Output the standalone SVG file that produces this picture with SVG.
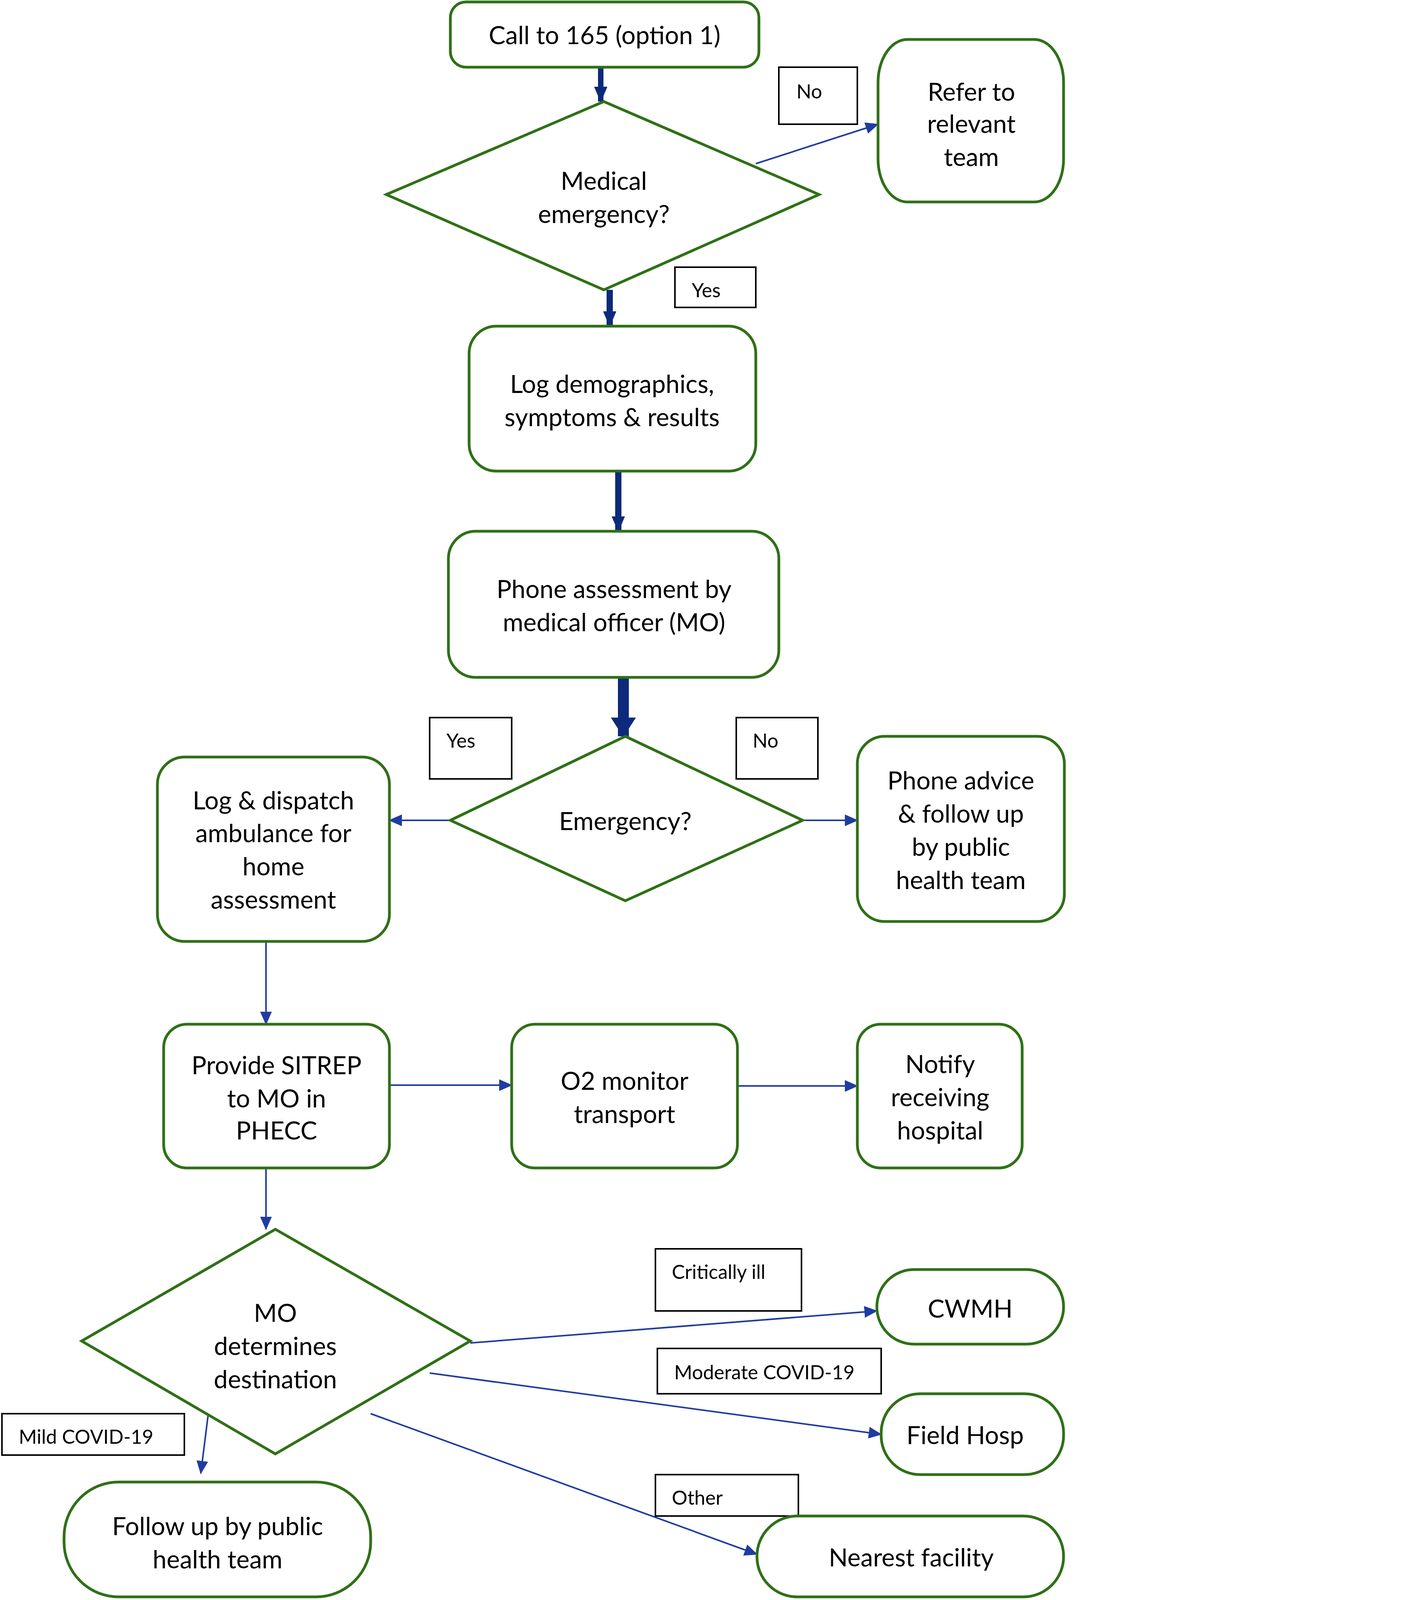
<svg xmlns="http://www.w3.org/2000/svg" width="3592" height="4160" viewBox="0 0 3592 4160">
<style>
.n{fill:#fff;stroke:#2e7016;stroke-width:7}
.t{font-family:Lato,"Open Sans",sans-serif;font-size:64px;fill:#000;text-anchor:middle;dominant-baseline:central}
.lb{fill:#fff;stroke:#000;stroke-width:4}
.l{font-family:Lato,"Open Sans",sans-serif;font-size:50px;fill:#000;dominant-baseline:central}
.a{stroke:#1f3ca0;stroke-width:4;fill:none;marker-end:url(#ah)}
.k{stroke:#0d2a7a;fill:none;marker-end:url(#kh)}
.foot{font-family:"Liberation Sans",Arial,sans-serif;font-size:50px;fill:#000;text-anchor:end}
</style>
<defs>
<marker id="ah" markerUnits="userSpaceOnUse" markerWidth="34" markerHeight="30" refX="32" refY="15" orient="auto"><path d="M0,0 L34,15 L0,30 Z" fill="#1f3ca0"/></marker>
<marker id="kh" markerUnits="userSpaceOnUse" markerWidth="40" markerHeight="34" refX="38" refY="17" orient="auto"><path d="M0,0 L40,17 L0,34 Z" fill="#0d2a7a"/></marker>
<marker id="kb" markerUnits="userSpaceOnUse" markerWidth="50" markerHeight="64" refX="48" refY="32" orient="auto"><path d="M0,0 L50,32 L0,64 Z" fill="#0d2a7a"/></marker>
</defs>
<rect width="3592" height="4160" fill="#fff"/>
<g id="connectors">
<line class="k" x1="1538" y1="172" x2="1538" y2="260" stroke-width="14"/>
<line class="k" x1="1561" y1="742" x2="1561" y2="835" stroke-width="16"/>
<line class="k" x1="1583" y1="1206" x2="1583" y2="1360" stroke-width="16"/>
<line x1="1596" y1="1734" x2="1596" y2="1885" stroke="#0d2a7a" stroke-width="28" marker-end="url(#kb)"/>
<line class="a" x1="1935" y1="419" x2="2248" y2="318"/>
<line class="a" x1="1153" y1="2100" x2="997" y2="2100"/>
<line class="a" x1="2055" y1="2100" x2="2195" y2="2100"/>
<line class="a" x1="681" y1="2410" x2="681" y2="2622"/>
<line class="a" x1="997" y1="2778" x2="1310" y2="2778"/>
<line class="a" x1="1888" y1="2780" x2="2195" y2="2780"/>
<line class="a" x1="681" y1="2990" x2="681" y2="3147"/>
<line class="a" x1="1204" y1="3438" x2="2245" y2="3356"/>
<line class="a" x1="1100" y1="3515" x2="2256" y2="3672"/>
<line class="a" x1="949" y1="3619" x2="1938" y2="3979"/>
<line class="a" x1="533" y1="3621" x2="514" y2="3772"/>
</g>
<g id="labels">
<rect class="lb" x="1994" y="172" width="201" height="146"/><text class="l" x="2039" y="233">No</text>
<rect class="lb" x="1728" y="684" width="207" height="103"/><text class="l" x="1771" y="742">Yes</text>
<rect class="lb" x="1100" y="1837" width="210" height="157"/><text class="l" x="1143" y="1895">Yes</text>
<rect class="lb" x="1885" y="1837" width="209" height="157"/><text class="l" x="1927" y="1895">No</text>
<rect class="lb" x="1678" y="3197" width="374" height="159"/><text class="l" x="1720" y="3255">Critically ill</text>
<rect class="lb" x="1683" y="3452" width="573" height="116"/><text class="l" x="1726" y="3512">Moderate COVID-19</text>
<rect class="lb" x="1678" y="3775" width="366" height="106"/><text class="l" x="1720" y="3833">Other</text>
<rect class="lb" x="5" y="3619" width="467" height="106"/><text class="l" x="48" y="3677">Mild COVID-19</text>
</g>
<g id="call"><rect class="n" x="1153" y="5" width="790" height="167" rx="40"/><text class="t" x="1548" y="88">Call to 165 (option 1)</text></g>
<g id="medical"><polygon class="n" points="989,498 1546,260 2097,498 1546,742"/><text class="t" x="1546" y="461">Medical</text><text class="t" x="1546" y="546">emergency?</text></g>
<g id="refer"><rect class="n" x="2248" y="101" width="475" height="416" rx="75" ry="110"/><text class="t" x="2487" y="233">Refer to</text><text class="t" x="2487" y="315">relevant</text><text class="t" x="2487" y="400">team</text></g>
<g id="log"><rect class="n" x="1201" y="835" width="734" height="371" rx="70"/><text class="t" x="1567" y="981">Log demographics,</text><text class="t" x="1567" y="1066">symptoms &amp; results</text></g>
<g id="phone"><rect class="n" x="1148" y="1360" width="846" height="374" rx="70"/><text class="t" x="1572" y="1506">Phone assessment by</text><text class="t" x="1572" y="1591">medical officer (MO)</text></g>
<g id="emergency"><polygon class="n" points="1153,2100 1601,1885 2055,2100 1601,2306"/><text class="t" x="1601" y="2100">Emergency?</text></g>
<g id="dispatch"><rect class="n" x="403" y="1938" width="594" height="472" rx="70"/><text class="t" x="700" y="2047">Log &amp; dispatch</text><text class="t" x="700" y="2131">ambulance for</text><text class="t" x="700" y="2216">home</text><text class="t" x="700" y="2301">assessment</text></g>
<g id="advice"><rect class="n" x="2195" y="1885" width="530" height="474" rx="70"/><text class="t" x="2460" y="1996">Phone advice</text><text class="t" x="2460" y="2081">&amp; follow up</text><text class="t" x="2460" y="2166">by public</text><text class="t" x="2460" y="2251">health team</text></g>
<g id="sitrep"><rect class="n" x="419" y="2622" width="578" height="368" rx="60"/><text class="t" x="708" y="2725">Provide SITREP</text><text class="t" x="708" y="2810">to MO in</text><text class="t" x="708" y="2892">PHECC</text></g>
<g id="o2"><rect class="n" x="1310" y="2622" width="578" height="368" rx="60"/><text class="t" x="1599" y="2765">O2 monitor</text><text class="t" x="1599" y="2850">transport</text></g>
<g id="notify"><rect class="n" x="2195" y="2622" width="422" height="368" rx="60"/><text class="t" x="2407" y="2722">Notify</text><text class="t" x="2407" y="2807">receiving</text><text class="t" x="2407" y="2892">hospital</text></g>
<g id="mo"><polygon class="n" points="209,3433 705,3147 1204,3433 705,3722"/><text class="t" x="705" y="3359">MO</text><text class="t" x="705" y="3444">determines</text><text class="t" x="705" y="3529">destination</text></g>
<g id="cwmh"><rect class="n" x="2245" y="3250" width="478" height="191" rx="95"/><text class="t" x="2484" y="3348">CWMH</text></g>
<g id="field"><rect class="n" x="2256" y="3568" width="467" height="207" rx="100"/><text class="t" x="2471" y="3672">Field Hosp</text></g>
<g id="nearest"><rect class="n" x="1938" y="3881" width="785" height="207" rx="103"/><text class="t" x="2333" y="3985">Nearest facility</text></g>
<g id="followup"><rect class="n" x="164" y="3794" width="785" height="294" rx="140"/><text class="t" x="557" y="3905">Follow up by public</text><text class="t" x="557" y="3990">health team</text></g>
<text class="foot" x="3585" y="4140">Creaton © 2024 Prehospital and Disaster Medicine</text>
</svg>
